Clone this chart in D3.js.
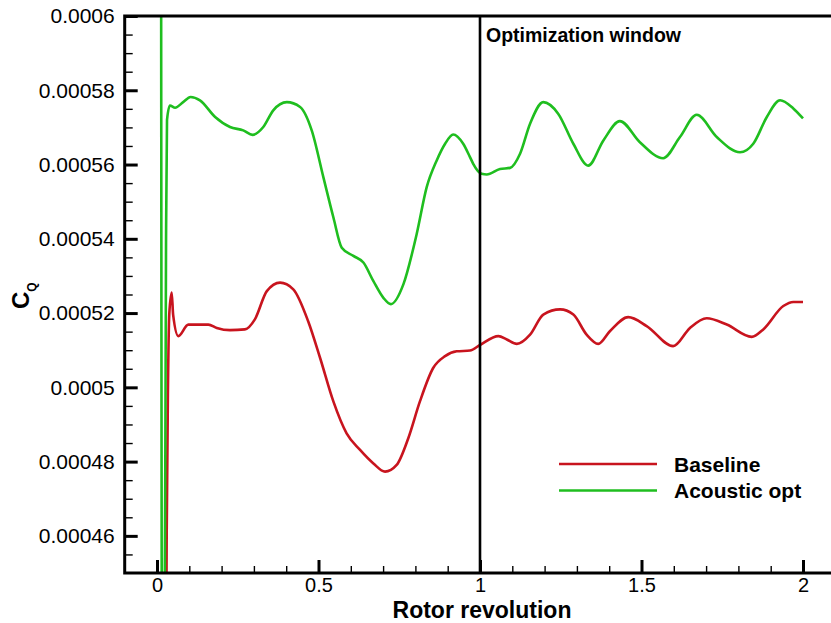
<!DOCTYPE html>
<html>
<head>
<meta charset="utf-8">
<script src="https://cdn.jsdelivr.net/npm/d3@7"></script>
<style>
  body { margin: 0; background: #fff; }
  svg { display: block; font-family: "Liberation Sans", Arial, Helvetica, sans-serif; }
</style>
</head>
<body>
<svg width="831" height="623"></svg>
<script>
// Data (rotor revolution vs torque coefficient)
const baselineRev = [0.027, 0.030, 0.034, 0.038, 0.0455, 0.050, 0.066, 0.097, 0.159, 0.185,
  0.226, 0.272, 0.303, 0.340, 0.381, 0.422, 0.468, 0.505, 0.546, 0.587,
  0.628, 0.670, 0.706, 0.742, 0.778, 0.814, 0.855, 0.892, 0.928, 0.969,
  1.000, 1.057, 1.083, 1.114, 1.155, 1.196, 1.248, 1.289, 1.330, 1.366,
  1.402, 1.459, 1.516, 1.598, 1.650, 1.702, 1.764, 1.841, 1.877, 1.939,
  1.970, 2.000];
const baselineCq = [0.00040, 0.00046, 0.00050, 0.0005197, 0.0005255, 0.0005195, 0.0005138, 0.0005169, 0.0005169, 0.0005160,
  0.0005154, 0.0005156, 0.0005183, 0.0005259, 0.0005282, 0.0005264, 0.0005178, 0.0005079, 0.0004962, 0.0004876,
  0.0004832, 0.0004795, 0.0004773, 0.0004791, 0.0004863, 0.0004962, 0.0005052, 0.0005084, 0.0005097, 0.0005099,
  0.0005114, 0.0005138, 0.0005129, 0.0005117, 0.0005142, 0.0005196, 0.0005210, 0.0005196, 0.0005142, 0.0005117,
  0.0005151, 0.0005189, 0.0005165, 0.0005111, 0.0005160, 0.0005186, 0.0005169, 0.0005136, 0.0005156, 0.0005219,
  0.0005230, 0.0005230];

const acousticRev = [0.012, 0.016, 0.022, 0.028, 0.031, 0.040, 0.056, 0.081, 0.104, 0.133,
  0.180, 0.226, 0.267, 0.296, 0.329, 0.360, 0.402, 0.443, 0.479, 0.515,
  0.546, 0.572, 0.608, 0.639, 0.670, 0.701, 0.724, 0.763, 0.804, 0.835,
  0.866, 0.892, 0.917, 0.948, 0.969, 0.979, 1.005, 1.021, 1.062, 1.093,
  1.124, 1.155, 1.196, 1.242, 1.289, 1.335, 1.382, 1.433, 1.495, 1.567,
  1.619, 1.671, 1.733, 1.805, 1.846, 1.888, 1.929, 1.970, 2.000];
const acousticCq = [0.0007, 0.0004, 0.0004, 0.00054, 0.000572, 0.0005759, 0.0005753, 0.0005768, 0.0005782, 0.0005773,
  0.0005728, 0.0005701, 0.0005692, 0.0005680, 0.0005701, 0.0005746, 0.0005768, 0.0005755, 0.0005692, 0.0005566,
  0.0005458, 0.0005376, 0.0005354, 0.0005336, 0.0005286, 0.0005241, 0.0005224, 0.0005278, 0.0005413, 0.0005539,
  0.0005611, 0.0005656, 0.0005681, 0.0005656, 0.0005620, 0.0005602, 0.0005575, 0.0005573, 0.0005588, 0.0005591,
  0.0005629, 0.0005710, 0.0005768, 0.0005737, 0.0005656, 0.0005597, 0.0005665, 0.0005717, 0.0005660, 0.0005617,
  0.0005674, 0.0005734, 0.0005674, 0.0005633, 0.0005656, 0.0005728, 0.0005773, 0.0005751, 0.0005724];

const xTicks = [0, 0.5, 1, 1.5, 2];
const xTickLabels = ["0", "0.5", "1", "1.5", "2"];
const yTicks = [0.00046, 0.00048, 0.0005, 0.00052, 0.00054, 0.00056, 0.00058, 0.0006];
const yTickLabels = ["0.00046", "0.00048", "0.0005", "0.00052", "0.00054", "0.00056", "0.00058", "0.0006"];

const seriesNames = ["Baseline", "Acoustic opt"];
const seriesColors = ["#c8141e", "#1fbe1f"];
const windowStart = 1;

let series = [
  { name: seriesNames[0], color: seriesColors[0], points: baselineRev.map((r, i) => ({ r: r, cq: baselineCq[i] })) },
  { name: seriesNames[1], color: seriesColors[1], points: acousticRev.map((r, i) => ({ r: r, cq: acousticCq[i] })) }
];

let svg = d3.select('svg');

// Scales (right end of the frame runs past the picture)
let xScale = d3.scaleLinear()
  .domain([-0.1, 2.1])
  .range([124.7, 835.3]);

let yScale = d3.scaleLinear()
  .domain([0.00045, 0.0006])
  .range([573, 16]);

let plotTop = yScale(0.0006), plotBottom = yScale(0.00045);
let plotLeft = xScale(-0.1), plotRight = xScale(2.1);

svg.append('clipPath')
  .attr('id', 'plot-clip')
  .append('rect')
  .attr('x', plotLeft)
  .attr('y', plotTop)
  .attr('width', plotRight - plotLeft)
  .attr('height', plotBottom - plotTop);

// Minor ticks
let xMinor = d3.range(-0.1, 2.1001, 0.1).map(v => +v.toFixed(2)).filter(v => xTicks.indexOf(v) < 0 && v > -0.1);
let yMinor = d3.range(0.00045, 0.0006001, 0.000005).map(v => +v.toFixed(6)).filter(v => yTicks.indexOf(v) < 0 && v > 0.00045);

svg.append('g')
  .attr('class', 'x-minor')
  .attr('transform', `translate(0, ${plotBottom})`)
  .call(d3.axisBottom(xScale).tickValues(xMinor).tickSize(-7).tickFormat(''))
  .call(g => g.select('.domain').remove())
  .call(g => g.selectAll('line').attr('stroke', '#000').attr('stroke-width', 1.4));

svg.append('g')
  .attr('class', 'y-minor')
  .attr('transform', `translate(${plotLeft}, 0)`)
  .call(d3.axisLeft(yScale).tickValues(yMinor).tickSize(-8).tickFormat(''))
  .call(g => g.select('.domain').remove())
  .call(g => g.selectAll('line').attr('stroke', '#000').attr('stroke-width', 1.4));

// Major ticks with labels
svg.append('g')
  .attr('id', 'x-axis')
  .attr('transform', `translate(0, ${plotBottom})`)
  .call(d3.axisBottom(xScale)
    .tickValues(xTicks)
    .tickSize(-13)
    .tickPadding(5)
    .tickFormat((d, i) => xTickLabels[i]))
  .call(g => g.select('.domain').remove())
  .call(g => g.selectAll('line').attr('stroke', '#000').attr('stroke-width', 3))
  .call(g => g.selectAll('text').attr('fill', '#000').style('font-size', '20px'));

svg.append('g')
  .attr('id', 'y-axis')
  .attr('transform', `translate(${plotLeft}, 0)`)
  .call(d3.axisLeft(yScale)
    .tickValues(yTicks)
    .tickSize(-13)
    .tickPadding(10)
    .tickFormat((d, i) => yTickLabels[i]))
  .call(g => g.select('.domain').remove())
  .call(g => g.selectAll('line').attr('stroke', '#000').attr('stroke-width', 3))
  .call(g => g.selectAll('text').attr('fill', '#000').style('font-size', '21px'));

// Data lines
let line = d3.line()
  .x(d => xScale(d.r))
  .y(d => yScale(d.cq))
  .curve(d3.curveMonotoneX);

svg.append('g')
  .attr('clip-path', 'url(#plot-clip)')
  .selectAll('path')
  .data(series)
  .enter()
  .append('path')
  .attr('d', d => line(d.points))
  .attr('fill', 'none')
  .attr('stroke', d => d.color)
  .attr('stroke-width', 2.6)
  .attr('stroke-linejoin', 'round');

// Optimization window marker
svg.append('line')
  .attr('x1', xScale(windowStart))
  .attr('x2', xScale(windowStart))
  .attr('y1', plotTop)
  .attr('y2', plotBottom)
  .attr('stroke', '#000')
  .attr('stroke-width', 2.6);

svg.append('text')
  .text('Optimization window')
  .attr('x', xScale(windowStart) + 6)
  .attr('y', 41.5)
  .style('font-size', '19.5px')
  .style('font-weight', 'bold');

// Frame
svg.append('rect')
  .attr('x', plotLeft)
  .attr('y', plotTop)
  .attr('width', plotRight - plotLeft)
  .attr('height', plotBottom - plotTop)
  .attr('fill', 'none')
  .attr('stroke', '#000')
  .attr('stroke-width', 3);

// Axis titles
svg.append('text')
  .text('Rotor revolution')
  .attr('x', 482)
  .attr('y', 617.5)
  .attr('text-anchor', 'middle')
  .style('font-size', '23px')
  .style('font-weight', 'bold');

let yTitle = svg.append('text')
  .attr('transform', 'translate(29, 309) rotate(-90)')
  .style('font-weight', 'bold');
yTitle.append('tspan').text('C').style('font-size', '24px');
yTitle.append('tspan').text('Q').attr('dy', 7).style('font-size', '12px');

// Legend
let legend = svg.append('g')
  .attr('id', 'legend')
  .attr('transform', 'translate(559, 464)');

let legendItems = legend.selectAll('g')
  .data(series)
  .enter()
  .append('g')
  .attr('transform', (d, i) => `translate(0, ${i * 26.5})`);

legendItems.append('line')
  .attr('x1', 0)
  .attr('x2', 98)
  .attr('stroke', d => d.color)
  .attr('stroke-width', 2.6);

legendItems.append('text')
  .text(d => d.name)
  .attr('x', 115)
  .attr('y', 7.5)
  .style('font-size', '21px')
  .style('font-weight', 'bold');
</script>
</body>
</html>
